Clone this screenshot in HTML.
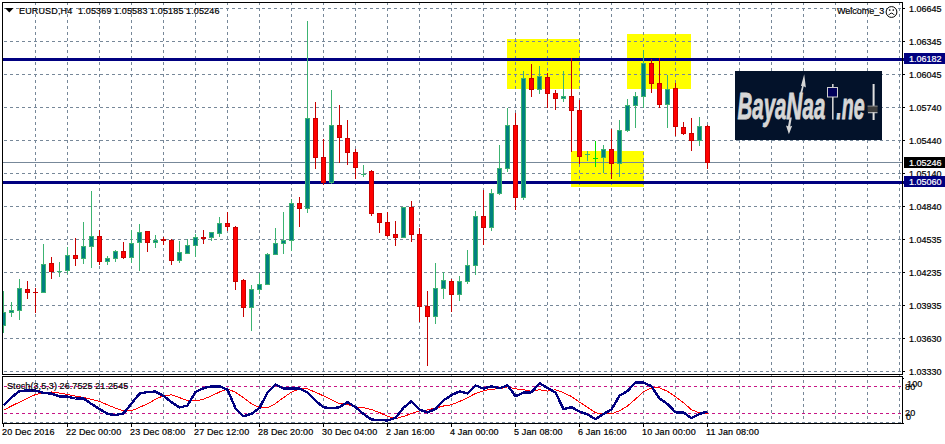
<!DOCTYPE html><html><head><meta charset="utf-8"><title>EURUSD H4</title><style>
html,body{margin:0;padding:0;background:#fff;}
body{width:945px;height:444px;overflow:hidden;position:relative;font-family:"Liberation Sans",sans-serif;font-size:9px;line-height:11px;color:#000;}
.t{position:absolute;white-space:pre;letter-spacing:0.15px;transform:translateY(0.5px);-webkit-text-stroke:0.2px #000;}
.w{color:#fff;-webkit-text-stroke-color:#fff;z-index:3;}
.n{letter-spacing:0;}
.k{transform:none;}
.b{position:absolute;left:904px;width:41px;height:11px;z-index:2;}
</style></head><body>
<svg width="945" height="444" viewBox="0 0 945 444" style="position:absolute;left:0;top:0" shape-rendering="crispEdges">
<rect width="945" height="444" fill="#fff"/>
<rect x="507" y="39" width="73" height="50" fill="#ffff00"/>
<rect x="571" y="151" width="73" height="36" fill="#ffff00"/>
<rect x="627" y="34" width="64" height="55" fill="#ffff00"/>
<line x1="35.5" y1="2" x2="35.5" y2="423" stroke="#778899" stroke-width="1" stroke-dasharray="3 3"/>
<line x1="67.5" y1="2" x2="67.5" y2="423" stroke="#778899" stroke-width="1" stroke-dasharray="3 3"/>
<line x1="99.5" y1="2" x2="99.5" y2="423" stroke="#778899" stroke-width="1" stroke-dasharray="3 3"/>
<line x1="131.5" y1="2" x2="131.5" y2="423" stroke="#778899" stroke-width="1" stroke-dasharray="3 3"/>
<line x1="163.5" y1="2" x2="163.5" y2="423" stroke="#778899" stroke-width="1" stroke-dasharray="3 3"/>
<line x1="195.5" y1="2" x2="195.5" y2="423" stroke="#778899" stroke-width="1" stroke-dasharray="3 3"/>
<line x1="227.5" y1="2" x2="227.5" y2="423" stroke="#778899" stroke-width="1" stroke-dasharray="3 3"/>
<line x1="259.5" y1="2" x2="259.5" y2="423" stroke="#778899" stroke-width="1" stroke-dasharray="3 3"/>
<line x1="291.5" y1="2" x2="291.5" y2="423" stroke="#778899" stroke-width="1" stroke-dasharray="3 3"/>
<line x1="323.5" y1="2" x2="323.5" y2="423" stroke="#778899" stroke-width="1" stroke-dasharray="3 3"/>
<line x1="355.5" y1="2" x2="355.5" y2="423" stroke="#778899" stroke-width="1" stroke-dasharray="3 3"/>
<line x1="387.5" y1="2" x2="387.5" y2="423" stroke="#778899" stroke-width="1" stroke-dasharray="3 3"/>
<line x1="419.5" y1="2" x2="419.5" y2="423" stroke="#778899" stroke-width="1" stroke-dasharray="3 3"/>
<line x1="451.5" y1="2" x2="451.5" y2="423" stroke="#778899" stroke-width="1" stroke-dasharray="3 3"/>
<line x1="483.5" y1="2" x2="483.5" y2="423" stroke="#778899" stroke-width="1" stroke-dasharray="3 3"/>
<line x1="515.5" y1="2" x2="515.5" y2="423" stroke="#778899" stroke-width="1" stroke-dasharray="3 3"/>
<line x1="547.5" y1="2" x2="547.5" y2="423" stroke="#778899" stroke-width="1" stroke-dasharray="3 3"/>
<line x1="579.5" y1="2" x2="579.5" y2="423" stroke="#778899" stroke-width="1" stroke-dasharray="3 3"/>
<line x1="611.5" y1="2" x2="611.5" y2="423" stroke="#778899" stroke-width="1" stroke-dasharray="3 3"/>
<line x1="643.5" y1="2" x2="643.5" y2="423" stroke="#778899" stroke-width="1" stroke-dasharray="3 3"/>
<line x1="675.5" y1="2" x2="675.5" y2="423" stroke="#778899" stroke-width="1" stroke-dasharray="3 3"/>
<line x1="707.5" y1="2" x2="707.5" y2="423" stroke="#778899" stroke-width="1" stroke-dasharray="3 3"/>
<line x1="739.5" y1="2" x2="739.5" y2="423" stroke="#778899" stroke-width="1" stroke-dasharray="3 3"/>
<line x1="771.5" y1="2" x2="771.5" y2="423" stroke="#778899" stroke-width="1" stroke-dasharray="3 3"/>
<line x1="803.5" y1="2" x2="803.5" y2="423" stroke="#778899" stroke-width="1" stroke-dasharray="3 3"/>
<line x1="835.5" y1="2" x2="835.5" y2="423" stroke="#778899" stroke-width="1" stroke-dasharray="3 3"/>
<line x1="867.5" y1="2" x2="867.5" y2="423" stroke="#778899" stroke-width="1" stroke-dasharray="3 3"/>
<line x1="899.5" y1="2" x2="899.5" y2="423" stroke="#778899" stroke-width="1" stroke-dasharray="3 3"/>
<line x1="4" y1="8.5" x2="902" y2="8.5" stroke="#778899" stroke-width="1" stroke-dasharray="3 3"/>
<line x1="4" y1="41.5" x2="902" y2="41.5" stroke="#778899" stroke-width="1" stroke-dasharray="3 3"/>
<line x1="4" y1="74.5" x2="902" y2="74.5" stroke="#778899" stroke-width="1" stroke-dasharray="3 3"/>
<line x1="4" y1="107.5" x2="902" y2="107.5" stroke="#778899" stroke-width="1" stroke-dasharray="3 3"/>
<line x1="4" y1="140.5" x2="902" y2="140.5" stroke="#778899" stroke-width="1" stroke-dasharray="3 3"/>
<line x1="4" y1="173.5" x2="902" y2="173.5" stroke="#778899" stroke-width="1" stroke-dasharray="3 3"/>
<line x1="4" y1="206.5" x2="902" y2="206.5" stroke="#778899" stroke-width="1" stroke-dasharray="3 3"/>
<line x1="4" y1="239.5" x2="902" y2="239.5" stroke="#778899" stroke-width="1" stroke-dasharray="3 3"/>
<line x1="4" y1="272.5" x2="902" y2="272.5" stroke="#778899" stroke-width="1" stroke-dasharray="3 3"/>
<line x1="4" y1="305.5" x2="902" y2="305.5" stroke="#778899" stroke-width="1" stroke-dasharray="3 3"/>
<line x1="4" y1="338.5" x2="902" y2="338.5" stroke="#778899" stroke-width="1" stroke-dasharray="3 3"/>
<line x1="4" y1="371.5" x2="902" y2="371.5" stroke="#778899" stroke-width="1" stroke-dasharray="3 3"/>
<line x1="4" y1="422.5" x2="902" y2="422.5" stroke="#778899" stroke-width="1" stroke-dasharray="3 3"/>
<line x1="4" y1="386.5" x2="902" y2="386.5" stroke="#c71585" stroke-width="1" stroke-dasharray="3 3"/>
<line x1="4" y1="413.5" x2="902" y2="413.5" stroke="#c71585" stroke-width="1" stroke-dasharray="3 3"/>
<rect x="3" y="162" width="899" height="1" fill="#778899"/>
<rect x="3" y="58" width="901" height="3" fill="#000080"/>
<rect x="3" y="181" width="901" height="3" fill="#000080"/>
<clipPath id="cc"><rect x="3" y="3" width="899" height="371"/></clipPath><g clip-path="url(#cc)">
<rect x="3" y="291" width="1" height="42" fill="#3cb371"/>
<rect x="1" y="312" width="5" height="14" fill="#3cb371"/>
<rect x="2" y="313" width="3" height="12" fill="#008080"/>
<rect x="11" y="302" width="1" height="15" fill="#3cb371"/>
<rect x="9" y="310" width="5" height="3" fill="#3cb371"/>
<rect x="10" y="311" width="3" height="1" fill="#008080"/>
<rect x="19" y="279" width="1" height="41" fill="#3cb371"/>
<rect x="17" y="288" width="5" height="23" fill="#3cb371"/>
<rect x="18" y="289" width="3" height="21" fill="#008080"/>
<rect x="27" y="281" width="1" height="18" fill="#c80000"/>
<rect x="25" y="289" width="5" height="4" fill="#c80000"/>
<rect x="26" y="290" width="3" height="2" fill="#ff0000"/>
<rect x="35" y="288" width="1" height="25" fill="#c80000"/>
<rect x="33" y="292" width="5" height="1" fill="#c80000"/>
<rect x="43" y="244" width="1" height="49" fill="#3cb371"/>
<rect x="41" y="264" width="5" height="29" fill="#3cb371"/>
<rect x="42" y="265" width="3" height="27" fill="#008080"/>
<rect x="51" y="257" width="1" height="22" fill="#c80000"/>
<rect x="49" y="263" width="5" height="9" fill="#c80000"/>
<rect x="50" y="264" width="3" height="7" fill="#ff0000"/>
<rect x="59" y="262" width="1" height="15" fill="#3cb371"/>
<rect x="57" y="271" width="5" height="1" fill="#3cb371"/>
<rect x="67" y="247" width="1" height="27" fill="#3cb371"/>
<rect x="65" y="255" width="5" height="16" fill="#3cb371"/>
<rect x="66" y="256" width="3" height="14" fill="#008080"/>
<rect x="75" y="238" width="1" height="28" fill="#c80000"/>
<rect x="73" y="255" width="5" height="4" fill="#c80000"/>
<rect x="74" y="256" width="3" height="2" fill="#ff0000"/>
<rect x="83" y="222" width="1" height="42" fill="#3cb371"/>
<rect x="81" y="246" width="5" height="13" fill="#3cb371"/>
<rect x="82" y="247" width="3" height="11" fill="#008080"/>
<rect x="91" y="191" width="1" height="77" fill="#3cb371"/>
<rect x="89" y="236" width="5" height="11" fill="#3cb371"/>
<rect x="90" y="237" width="3" height="9" fill="#008080"/>
<rect x="99" y="230" width="1" height="35" fill="#c80000"/>
<rect x="97" y="236" width="5" height="26" fill="#c80000"/>
<rect x="98" y="237" width="3" height="24" fill="#ff0000"/>
<rect x="107" y="256" width="1" height="9" fill="#3cb371"/>
<rect x="105" y="258" width="5" height="4" fill="#3cb371"/>
<rect x="106" y="259" width="3" height="2" fill="#008080"/>
<rect x="115" y="250" width="1" height="12" fill="#3cb371"/>
<rect x="113" y="251" width="5" height="8" fill="#3cb371"/>
<rect x="114" y="252" width="3" height="6" fill="#008080"/>
<rect x="123" y="242" width="1" height="17" fill="#c80000"/>
<rect x="121" y="251" width="5" height="7" fill="#c80000"/>
<rect x="122" y="252" width="3" height="5" fill="#ff0000"/>
<rect x="131" y="230" width="1" height="33" fill="#3cb371"/>
<rect x="129" y="243" width="5" height="15" fill="#3cb371"/>
<rect x="130" y="244" width="3" height="13" fill="#008080"/>
<rect x="139" y="224" width="1" height="47" fill="#3cb371"/>
<rect x="137" y="232" width="5" height="11" fill="#3cb371"/>
<rect x="138" y="233" width="3" height="9" fill="#008080"/>
<rect x="147" y="231" width="1" height="21" fill="#c80000"/>
<rect x="145" y="231" width="5" height="12" fill="#c80000"/>
<rect x="146" y="232" width="3" height="10" fill="#ff0000"/>
<rect x="155" y="235" width="1" height="13" fill="#3cb371"/>
<rect x="153" y="240" width="5" height="3" fill="#3cb371"/>
<rect x="154" y="241" width="3" height="1" fill="#008080"/>
<rect x="163" y="237" width="1" height="8" fill="#c80000"/>
<rect x="161" y="239" width="5" height="2" fill="#c80000"/>
<rect x="171" y="239" width="1" height="26" fill="#c80000"/>
<rect x="169" y="240" width="5" height="21" fill="#c80000"/>
<rect x="170" y="241" width="3" height="19" fill="#ff0000"/>
<rect x="179" y="241" width="1" height="22" fill="#3cb371"/>
<rect x="177" y="252" width="5" height="9" fill="#3cb371"/>
<rect x="178" y="253" width="3" height="7" fill="#008080"/>
<rect x="187" y="239" width="1" height="15" fill="#3cb371"/>
<rect x="185" y="245" width="5" height="9" fill="#3cb371"/>
<rect x="186" y="246" width="3" height="7" fill="#008080"/>
<rect x="195" y="234" width="1" height="23" fill="#3cb371"/>
<rect x="193" y="237" width="5" height="9" fill="#3cb371"/>
<rect x="194" y="238" width="3" height="7" fill="#008080"/>
<rect x="203" y="230" width="1" height="14" fill="#c80000"/>
<rect x="201" y="237" width="5" height="2" fill="#c80000"/>
<rect x="211" y="232" width="1" height="9" fill="#3cb371"/>
<rect x="209" y="232" width="5" height="6" fill="#3cb371"/>
<rect x="210" y="233" width="3" height="4" fill="#008080"/>
<rect x="219" y="217" width="1" height="20" fill="#3cb371"/>
<rect x="217" y="223" width="5" height="11" fill="#3cb371"/>
<rect x="218" y="224" width="3" height="9" fill="#008080"/>
<rect x="227" y="212" width="1" height="19" fill="#c80000"/>
<rect x="225" y="223" width="5" height="4" fill="#c80000"/>
<rect x="226" y="224" width="3" height="2" fill="#ff0000"/>
<rect x="235" y="226" width="1" height="64" fill="#c80000"/>
<rect x="233" y="227" width="5" height="55" fill="#c80000"/>
<rect x="234" y="228" width="3" height="53" fill="#ff0000"/>
<rect x="243" y="279" width="1" height="38" fill="#c80000"/>
<rect x="241" y="280" width="5" height="28" fill="#c80000"/>
<rect x="242" y="281" width="3" height="26" fill="#ff0000"/>
<rect x="251" y="285" width="1" height="46" fill="#3cb371"/>
<rect x="249" y="289" width="5" height="19" fill="#3cb371"/>
<rect x="250" y="290" width="3" height="17" fill="#008080"/>
<rect x="259" y="273" width="1" height="21" fill="#3cb371"/>
<rect x="257" y="284" width="5" height="6" fill="#3cb371"/>
<rect x="258" y="285" width="3" height="4" fill="#008080"/>
<rect x="267" y="253" width="1" height="32" fill="#3cb371"/>
<rect x="265" y="254" width="5" height="31" fill="#3cb371"/>
<rect x="266" y="255" width="3" height="29" fill="#008080"/>
<rect x="275" y="228" width="1" height="27" fill="#3cb371"/>
<rect x="273" y="243" width="5" height="12" fill="#3cb371"/>
<rect x="274" y="244" width="3" height="10" fill="#008080"/>
<rect x="283" y="212" width="1" height="42" fill="#3cb371"/>
<rect x="281" y="240" width="5" height="4" fill="#3cb371"/>
<rect x="282" y="241" width="3" height="2" fill="#008080"/>
<rect x="291" y="199" width="1" height="52" fill="#3cb371"/>
<rect x="289" y="203" width="5" height="38" fill="#3cb371"/>
<rect x="290" y="204" width="3" height="36" fill="#008080"/>
<rect x="299" y="197" width="1" height="30" fill="#c80000"/>
<rect x="297" y="203" width="5" height="6" fill="#c80000"/>
<rect x="298" y="204" width="3" height="4" fill="#ff0000"/>
<rect x="307" y="21" width="1" height="192" fill="#3cb371"/>
<rect x="305" y="118" width="5" height="91" fill="#3cb371"/>
<rect x="306" y="119" width="3" height="89" fill="#008080"/>
<rect x="315" y="102" width="1" height="67" fill="#c80000"/>
<rect x="313" y="118" width="5" height="40" fill="#c80000"/>
<rect x="314" y="119" width="3" height="38" fill="#ff0000"/>
<rect x="323" y="139" width="1" height="46" fill="#c80000"/>
<rect x="321" y="157" width="5" height="26" fill="#c80000"/>
<rect x="322" y="158" width="3" height="24" fill="#ff0000"/>
<rect x="331" y="90" width="1" height="94" fill="#3cb371"/>
<rect x="329" y="125" width="5" height="58" fill="#3cb371"/>
<rect x="330" y="126" width="3" height="56" fill="#008080"/>
<rect x="339" y="105" width="1" height="58" fill="#c80000"/>
<rect x="337" y="125" width="5" height="13" fill="#c80000"/>
<rect x="338" y="126" width="3" height="11" fill="#ff0000"/>
<rect x="347" y="120" width="1" height="45" fill="#c80000"/>
<rect x="345" y="138" width="5" height="15" fill="#c80000"/>
<rect x="346" y="139" width="3" height="13" fill="#ff0000"/>
<rect x="355" y="149" width="1" height="30" fill="#c80000"/>
<rect x="353" y="152" width="5" height="16" fill="#c80000"/>
<rect x="354" y="153" width="3" height="14" fill="#ff0000"/>
<rect x="363" y="165" width="1" height="12" fill="#3cb371"/>
<rect x="361" y="174" width="5" height="1" fill="#3cb371"/>
<rect x="371" y="170" width="1" height="46" fill="#c80000"/>
<rect x="369" y="171" width="5" height="43" fill="#c80000"/>
<rect x="370" y="172" width="3" height="41" fill="#ff0000"/>
<rect x="379" y="213" width="1" height="20" fill="#c80000"/>
<rect x="377" y="213" width="5" height="10" fill="#c80000"/>
<rect x="378" y="214" width="3" height="8" fill="#ff0000"/>
<rect x="387" y="212" width="1" height="25" fill="#c80000"/>
<rect x="385" y="222" width="5" height="14" fill="#c80000"/>
<rect x="386" y="223" width="3" height="12" fill="#ff0000"/>
<rect x="395" y="221" width="1" height="25" fill="#c80000"/>
<rect x="393" y="234" width="5" height="4" fill="#c80000"/>
<rect x="394" y="235" width="3" height="2" fill="#ff0000"/>
<rect x="403" y="207" width="1" height="31" fill="#3cb371"/>
<rect x="401" y="207" width="5" height="31" fill="#3cb371"/>
<rect x="402" y="208" width="3" height="29" fill="#008080"/>
<rect x="411" y="201" width="1" height="41" fill="#c80000"/>
<rect x="409" y="207" width="5" height="28" fill="#c80000"/>
<rect x="410" y="208" width="3" height="26" fill="#ff0000"/>
<rect x="419" y="228" width="1" height="94" fill="#c80000"/>
<rect x="417" y="234" width="5" height="73" fill="#c80000"/>
<rect x="418" y="235" width="3" height="71" fill="#ff0000"/>
<rect x="427" y="291" width="1" height="75" fill="#c80000"/>
<rect x="425" y="306" width="5" height="11" fill="#c80000"/>
<rect x="426" y="307" width="3" height="9" fill="#ff0000"/>
<rect x="435" y="263" width="1" height="61" fill="#3cb371"/>
<rect x="433" y="288" width="5" height="29" fill="#3cb371"/>
<rect x="434" y="289" width="3" height="27" fill="#008080"/>
<rect x="443" y="272" width="1" height="27" fill="#3cb371"/>
<rect x="441" y="280" width="5" height="9" fill="#3cb371"/>
<rect x="442" y="281" width="3" height="7" fill="#008080"/>
<rect x="451" y="279" width="1" height="33" fill="#c80000"/>
<rect x="449" y="281" width="5" height="14" fill="#c80000"/>
<rect x="450" y="282" width="3" height="12" fill="#ff0000"/>
<rect x="459" y="276" width="1" height="25" fill="#3cb371"/>
<rect x="457" y="281" width="5" height="14" fill="#3cb371"/>
<rect x="458" y="282" width="3" height="12" fill="#008080"/>
<rect x="467" y="250" width="1" height="34" fill="#3cb371"/>
<rect x="465" y="265" width="5" height="17" fill="#3cb371"/>
<rect x="466" y="266" width="3" height="15" fill="#008080"/>
<rect x="475" y="211" width="1" height="64" fill="#3cb371"/>
<rect x="473" y="216" width="5" height="50" fill="#3cb371"/>
<rect x="474" y="217" width="3" height="48" fill="#008080"/>
<rect x="483" y="190" width="1" height="55" fill="#c80000"/>
<rect x="481" y="216" width="5" height="12" fill="#c80000"/>
<rect x="482" y="217" width="3" height="10" fill="#ff0000"/>
<rect x="491" y="189" width="1" height="42" fill="#3cb371"/>
<rect x="489" y="193" width="5" height="35" fill="#3cb371"/>
<rect x="490" y="194" width="3" height="33" fill="#008080"/>
<rect x="499" y="145" width="1" height="50" fill="#3cb371"/>
<rect x="497" y="168" width="5" height="26" fill="#3cb371"/>
<rect x="498" y="169" width="3" height="24" fill="#008080"/>
<rect x="507" y="108" width="1" height="64" fill="#3cb371"/>
<rect x="505" y="125" width="5" height="44" fill="#3cb371"/>
<rect x="506" y="126" width="3" height="42" fill="#008080"/>
<rect x="515" y="113" width="1" height="97" fill="#c80000"/>
<rect x="513" y="125" width="5" height="73" fill="#c80000"/>
<rect x="514" y="126" width="3" height="71" fill="#ff0000"/>
<rect x="523" y="71" width="1" height="129" fill="#3cb371"/>
<rect x="521" y="78" width="5" height="120" fill="#3cb371"/>
<rect x="522" y="79" width="3" height="118" fill="#008080"/>
<rect x="531" y="64" width="1" height="33" fill="#c80000"/>
<rect x="529" y="78" width="5" height="12" fill="#c80000"/>
<rect x="530" y="79" width="3" height="10" fill="#ff0000"/>
<rect x="539" y="66" width="1" height="28" fill="#3cb371"/>
<rect x="537" y="76" width="5" height="14" fill="#3cb371"/>
<rect x="538" y="77" width="3" height="12" fill="#008080"/>
<rect x="547" y="73" width="1" height="35" fill="#c80000"/>
<rect x="545" y="77" width="5" height="17" fill="#c80000"/>
<rect x="546" y="78" width="3" height="15" fill="#ff0000"/>
<rect x="555" y="90" width="1" height="20" fill="#c80000"/>
<rect x="553" y="93" width="5" height="6" fill="#c80000"/>
<rect x="554" y="94" width="3" height="4" fill="#ff0000"/>
<rect x="563" y="71" width="1" height="31" fill="#3cb371"/>
<rect x="561" y="96" width="5" height="3" fill="#3cb371"/>
<rect x="562" y="97" width="3" height="1" fill="#008080"/>
<rect x="571" y="58" width="1" height="94" fill="#c80000"/>
<rect x="569" y="96" width="5" height="15" fill="#c80000"/>
<rect x="570" y="97" width="3" height="13" fill="#ff0000"/>
<rect x="579" y="100" width="1" height="64" fill="#c80000"/>
<rect x="577" y="110" width="5" height="47" fill="#c80000"/>
<rect x="578" y="111" width="3" height="45" fill="#ff0000"/>
<rect x="587" y="151" width="1" height="10" fill="#3cb371"/>
<rect x="585" y="154" width="5" height="1" fill="#3cb371"/>
<rect x="595" y="141" width="1" height="26" fill="#00e000"/>
<rect x="593" y="158" width="5" height="1" fill="#00e000"/>
<rect x="603" y="145" width="1" height="28" fill="#3cb371"/>
<rect x="601" y="149" width="5" height="9" fill="#3cb371"/>
<rect x="602" y="150" width="3" height="7" fill="#008080"/>
<rect x="611" y="129" width="1" height="50" fill="#c80000"/>
<rect x="609" y="149" width="5" height="15" fill="#c80000"/>
<rect x="610" y="150" width="3" height="13" fill="#ff0000"/>
<rect x="619" y="120" width="1" height="57" fill="#3cb371"/>
<rect x="617" y="130" width="5" height="34" fill="#3cb371"/>
<rect x="618" y="131" width="3" height="32" fill="#008080"/>
<rect x="627" y="99" width="1" height="33" fill="#3cb371"/>
<rect x="625" y="105" width="5" height="26" fill="#3cb371"/>
<rect x="626" y="106" width="3" height="24" fill="#008080"/>
<rect x="635" y="92" width="1" height="36" fill="#3cb371"/>
<rect x="633" y="96" width="5" height="10" fill="#3cb371"/>
<rect x="634" y="97" width="3" height="8" fill="#008080"/>
<rect x="643" y="50" width="1" height="58" fill="#3cb371"/>
<rect x="641" y="63" width="5" height="34" fill="#3cb371"/>
<rect x="642" y="64" width="3" height="32" fill="#008080"/>
<rect x="651" y="59" width="1" height="34" fill="#c80000"/>
<rect x="649" y="63" width="5" height="21" fill="#c80000"/>
<rect x="650" y="64" width="3" height="19" fill="#ff0000"/>
<rect x="659" y="58" width="1" height="50" fill="#c80000"/>
<rect x="657" y="83" width="5" height="22" fill="#c80000"/>
<rect x="658" y="84" width="3" height="20" fill="#ff0000"/>
<rect x="667" y="75" width="1" height="53" fill="#3cb371"/>
<rect x="665" y="89" width="5" height="16" fill="#3cb371"/>
<rect x="666" y="90" width="3" height="14" fill="#008080"/>
<rect x="675" y="83" width="1" height="53" fill="#c80000"/>
<rect x="673" y="88" width="5" height="39" fill="#c80000"/>
<rect x="674" y="89" width="3" height="37" fill="#ff0000"/>
<rect x="683" y="122" width="1" height="13" fill="#c80000"/>
<rect x="681" y="127" width="5" height="7" fill="#c80000"/>
<rect x="682" y="128" width="3" height="5" fill="#ff0000"/>
<rect x="691" y="118" width="1" height="33" fill="#c80000"/>
<rect x="689" y="133" width="5" height="8" fill="#c80000"/>
<rect x="690" y="134" width="3" height="6" fill="#ff0000"/>
<rect x="699" y="117" width="1" height="29" fill="#3cb371"/>
<rect x="697" y="126" width="5" height="15" fill="#3cb371"/>
<rect x="698" y="127" width="3" height="13" fill="#008080"/>
<rect x="707" y="125" width="1" height="44" fill="#c80000"/>
<rect x="705" y="126" width="5" height="37" fill="#c80000"/>
<rect x="706" y="127" width="3" height="35" fill="#ff0000"/>
</g>
<polyline points="3.5,410.3 11.5,406.0 19.5,402.1 27.5,398.2 35.5,394.5 43.5,392.9 51.5,392.0 59.5,393.1 67.5,394.5 75.5,396.1 83.5,397.4 91.5,399.3 99.5,401.4 107.5,404.9 115.5,408.1 123.5,410.8 131.5,410.8 139.5,407.4 147.5,403.8 155.5,399.3 163.5,395.7 171.5,394.8 179.5,397.6 187.5,400.7 195.5,401.0 203.5,399.1 211.5,395.9 219.5,392.0 227.5,388.9 235.5,392.2 243.5,397.8 251.5,403.8 259.5,407.5 267.5,407.7 275.5,403.6 283.5,397.6 291.5,392.2 299.5,388.9 307.5,388.9 315.5,392.2 323.5,395.9 331.5,399.8 339.5,403.6 347.5,404.7 355.5,406.8 363.5,407.7 371.5,409.6 379.5,412.5 387.5,416.4 395.5,418.7 403.5,416.4 411.5,413.6 419.5,410.8 427.5,410.0 435.5,408.0 443.5,406.0 451.5,404.7 459.5,401.5 467.5,397.8 475.5,393.4 483.5,390.8 491.5,389.1 499.5,388.9 507.5,386.9 515.5,388.9 523.5,389.7 531.5,391.2 539.5,389.7 547.5,391.1 555.5,389.7 563.5,392.7 571.5,396.5 579.5,402.1 587.5,407.2 595.5,412.8 603.5,413.9 611.5,413.9 619.5,410.8 627.5,406.0 635.5,399.1 643.5,391.7 651.5,388.0 659.5,387.9 667.5,391.2 675.5,396.7 683.5,402.7 691.5,409.8 699.5,412.8 707.5,413.9" fill="none" stroke="#ff0000" stroke-width="1" shape-rendering="crispEdges"/>
<polyline points="3.5,405.5 11.5,397.5 19.5,391.0 27.5,390.5 35.5,390.5 43.5,393.0 51.5,393.5 59.5,396.5 67.5,396.7 75.5,398.5 83.5,398.5 91.5,404.0 99.5,409.0 107.5,413.9 115.5,415.1 123.5,413.4 131.5,403.5 139.5,393.7 147.5,392.0 155.5,391.6 163.5,395.9 171.5,402.1 179.5,407.5 187.5,405.5 195.5,392.1 203.5,388.2 211.5,386.3 219.5,386.3 227.5,389.7 235.5,408.3 243.5,416.2 251.5,413.9 259.5,408.0 267.5,392.5 275.5,384.4 283.5,388.6 291.5,388.6 299.5,388.6 307.5,392.5 315.5,400.7 323.5,407.2 331.5,408.3 339.5,407.2 347.5,402.1 355.5,407.2 363.5,413.9 371.5,419.6 379.5,419.9 387.5,420.5 395.5,417.9 403.5,407.7 411.5,401.2 419.5,409.6 427.5,412.5 435.5,408.9 443.5,400.4 451.5,395.1 459.5,391.4 467.5,393.4 475.5,385.4 483.5,388.6 491.5,386.3 499.5,388.2 507.5,385.4 515.5,396.2 523.5,392.7 531.5,392.3 539.5,383.3 547.5,388.0 555.5,392.5 563.5,409.2 571.5,407.2 579.5,411.5 587.5,414.5 595.5,419.2 603.5,413.9 611.5,409.6 619.5,395.7 627.5,391.1 635.5,382.4 643.5,382.4 651.5,386.3 659.5,398.4 667.5,404.0 675.5,412.3 683.5,412.5 691.5,418.2 699.5,413.9 707.5,411.5" fill="none" stroke="#000080" stroke-width="2.4" stroke-linejoin="round" shape-rendering="crispEdges"/>
<rect x="2" y="2" width="901" height="1" fill="#000"/>
<rect x="2" y="374" width="901" height="1" fill="#000"/>
<rect x="2" y="376" width="901" height="1" fill="#000"/>
<rect x="2" y="423" width="901" height="1" fill="#000"/>
<rect x="2" y="2" width="1" height="373" fill="#000"/>
<rect x="2" y="376" width="1" height="48" fill="#000"/>
<rect x="902" y="2" width="1" height="373" fill="#000"/>
<rect x="902" y="376" width="1" height="48" fill="#000"/>
<rect x="903" y="8" width="2" height="1" fill="#000"/>
<rect x="903" y="41" width="2" height="1" fill="#000"/>
<rect x="903" y="74" width="2" height="1" fill="#000"/>
<rect x="903" y="107" width="2" height="1" fill="#000"/>
<rect x="903" y="140" width="2" height="1" fill="#000"/>
<rect x="903" y="173" width="2" height="1" fill="#000"/>
<rect x="903" y="206" width="2" height="1" fill="#000"/>
<rect x="903" y="239" width="2" height="1" fill="#000"/>
<rect x="903" y="272" width="2" height="1" fill="#000"/>
<rect x="903" y="305" width="2" height="1" fill="#000"/>
<rect x="903" y="338" width="2" height="1" fill="#000"/>
<rect x="903" y="371" width="2" height="1" fill="#000"/>
<rect x="903" y="378" width="1" height="1" fill="#000"/>
<rect x="903" y="423" width="1" height="1" fill="#000"/>
<rect x="3" y="424" width="1" height="3" fill="#000"/>
<rect x="67" y="424" width="1" height="3" fill="#000"/>
<rect x="131" y="424" width="1" height="3" fill="#000"/>
<rect x="195" y="424" width="1" height="3" fill="#000"/>
<rect x="259" y="424" width="1" height="3" fill="#000"/>
<rect x="323" y="424" width="1" height="3" fill="#000"/>
<rect x="387" y="424" width="1" height="3" fill="#000"/>
<rect x="451" y="424" width="1" height="3" fill="#000"/>
<rect x="515" y="424" width="1" height="3" fill="#000"/>
<rect x="579" y="424" width="1" height="3" fill="#000"/>
<rect x="643" y="424" width="1" height="3" fill="#000"/>
<rect x="707" y="424" width="1" height="3" fill="#000"/>
<polygon points="5,8 13.6,8 9.3,12.6" fill="#000" shape-rendering="auto"/>
<rect x="735" y="71" width="147" height="69" fill="#03122a"/>
<g shape-rendering="auto">
<g font-family="Liberation Sans, sans-serif" font-weight="bold" font-style="italic" font-size="37" fill="#d6d6d6" stroke="#d6d6d6" stroke-width="0.9">
<text transform="translate(737.5,118.7) scale(0.553,1)">Baya</text>
<text transform="translate(786.3,118.7) scale(0.60,1)">N</text>
<text transform="translate(802.6,118.7) scale(0.553,1)">aa</text>
<text transform="translate(836.2,118.7) scale(0.53,1)">.ne</text>
</g>
<polygon points="804.2,74.2 805.9,87.4 803.7,86.2 802.2,93 800.2,93 802.2,85.8 800.9,86.3" fill="#d6d6d6"/>
<polygon points="788.9,134.3 786,125.5 788,126.2 789.6,117.5 791.8,117.5 790.2,126.4 792.2,125.8" fill="#d6d6d6"/>
<rect x="832" y="84" width="1.6" height="35.5" fill="#d0d0d0"/>
<rect x="827" y="87" width="11" height="10.5" fill="#cfcfcf"/>
<rect x="828" y="88" width="9" height="8.5" fill="#00005a"/>
<rect x="872.6" y="84" width="2" height="36" fill="#e0e0e0"/>
<rect x="867.6" y="106" width="10" height="6.4" fill="#3c3c3c"/>
<rect x="867.6" y="105.6" width="10" height="1" fill="#8a8a8a"/>
<rect x="868" y="112.2" width="9.5" height="1" fill="#cfcfcf"/>
<circle cx="891.5" cy="12" r="5.4" fill="#fff" stroke="#000" stroke-width="1"/>
<circle cx="889.7" cy="10" r="0.85" fill="#000"/><circle cx="893.3" cy="10" r="0.85" fill="#000"/>
<path d="M888.6 15.1 Q891.5 11.2 894.4 15.1" fill="none" stroke="#000" stroke-width="1"/>
</g>
</svg>
<span class="t" style="left:19px;top:5px">EURUSD,H4</span>
<span class="t" style="left:78px;top:5px">1.05369</span>
<span class="t" style="left:114px;top:5px">1.05583</span>
<span class="t" style="left:150px;top:5px">1.05185</span>
<span class="t" style="left:186px;top:5px">1.05246</span>
<span class="t" style="left:837px;top:5px;letter-spacing:0">Welcome_3</span>
<span class="t n" style="left:909px;top:3px">1.06645</span>
<span class="t n" style="left:909px;top:36px">1.06345</span>
<span class="t n" style="left:909px;top:69px">1.06045</span>
<span class="t n" style="left:909px;top:102px">1.05740</span>
<span class="t n" style="left:909px;top:135px">1.05440</span>
<span class="t n" style="left:909px;top:168px">1.05140</span>
<span class="t n" style="left:909px;top:201px">1.04840</span>
<span class="t n" style="left:909px;top:234px">1.04535</span>
<span class="t n" style="left:909px;top:267px">1.04235</span>
<span class="t n" style="left:909px;top:300px">1.03935</span>
<span class="t n" style="left:909px;top:333px">1.03630</span>
<span class="t n" style="left:909px;top:366px">1.03330</span>
<div class="b" style="top:53px;background:#000080"></div><div class="b" style="top:157px;background:#000"></div><div class="b" style="top:176px;background:#000080"></div>
<span class="t n w" style="left:909px;top:53px">1.06182</span>
<span class="t n w" style="left:909px;top:157px">1.05246</span>
<span class="t n w" style="left:909px;top:176px">1.05060</span>
<span class="t" style="left:907px;top:378px">100</span>
<span class="t" style="left:905px;top:381px">80</span>
<span class="t" style="left:905px;top:407px">20</span>
<span class="t" style="left:906px;top:411px">0</span>
<span class="t" style="left:7px;top:380px;letter-spacing:0.08px">Stoch(3,5,3) 26.7525 21.2545</span>
<span class="t k" style="left:2px;top:427px">20 Dec 2016</span>
<span class="t k" style="left:66px;top:427px">22 Dec 00:00</span>
<span class="t k" style="left:130px;top:427px">23 Dec 08:00</span>
<span class="t k" style="left:194px;top:427px">27 Dec 12:00</span>
<span class="t k" style="left:258px;top:427px">28 Dec 20:00</span>
<span class="t k" style="left:322px;top:427px">30 Dec 04:00</span>
<span class="t k" style="left:386px;top:427px">2 Jan 16:00</span>
<span class="t k" style="left:450px;top:427px">4 Jan 00:00</span>
<span class="t k" style="left:514px;top:427px">5 Jan 08:00</span>
<span class="t k" style="left:578px;top:427px">6 Jan 16:00</span>
<span class="t k" style="left:642px;top:427px">10 Jan 00:00</span>
<span class="t k" style="left:706px;top:427px">11 Jan 08:00</span>
</body></html>
